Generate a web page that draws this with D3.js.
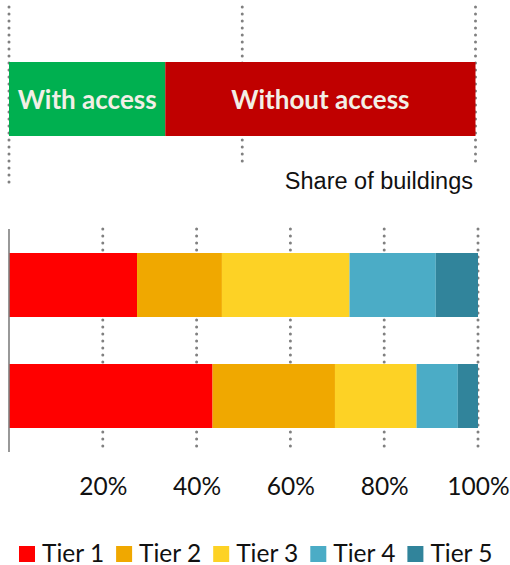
<!DOCTYPE html>
<html>
<head>
<meta charset="utf-8">
<script src="https://cdn.jsdelivr.net/npm/d3@7/dist/d3.min.js"></script>
<style>
  html, body { margin: 0; padding: 0; background: #fff; }
  svg { display: block; }
</style>
</head>
<body>
<svg id="chart" width="510" height="565"></svg>
<script>
// Access split (share of buildings, %)
const accessLabels = ["With access", "Without access"];
const accessValues = [33.5, 66.5];
const accessColors = ["#00b050", "#c00000"];

// Tier distribution for two groups (%)
const rows = ["Group A", "Group B"];
const tiers = ["Tier 1", "Tier 2", "Tier 3", "Tier 4", "Tier 5"];
const tierValuesA = [27.3, 18.1, 27.2, 18.4, 9.0];
const tierValuesB = [43.4, 26.1, 17.4, 8.8, 4.3];
const tierColors = ["#ff0000", "#f0a800", "#fdd225", "#4bacc6", "#31849b"];

const tickValues = [20, 40, 60, 80, 100];
const tickLabels = ["20%", "40%", "60%", "80%", "100%"];
const topTicks = [0, 50, 100];

const svg = d3.select("#chart");
const gridColor = "#808080";
const labelFont = "Lato, 'Open Sans', sans-serif";

// dotted gridline style
function dotted(sel) {
  sel.attr("stroke", gridColor).attr("stroke-width", 3)
    .attr("stroke-dasharray", "0,7").attr("stroke-linecap", "round");
}

// ---------- top: access bar ----------
const xTop = d3.scaleLinear().domain([0, 100]).range([9, 475.5]);
const yTop = d3.scaleBand().domain(["access"]).range([62, 136]).padding(0);

svg.append("g").selectAll("line").data(topTicks).join("line")
  .attr("x1", d => xTop(d)).attr("x2", d => xTop(d))
  .attr("y1", 7).attr("y2", d => d === 0 ? 188 : 164)
  .call(dotted);

let acc = 0;
const accessData = accessValues.map((v, i) => {
  const d = { label: accessLabels[i], x0: acc, x1: acc + v, color: accessColors[i] };
  acc += v;
  return d;
});

svg.append("g").selectAll("rect").data(accessData).join("rect")
  .attr("x", d => xTop(d.x0)).attr("width", d => xTop(d.x1) - xTop(d.x0))
  .attr("y", yTop("access")).attr("height", yTop.bandwidth())
  .attr("fill", d => d.color);

svg.append("g").selectAll("text").data(accessData).join("text")
  .attr("x", d => (xTop(d.x0) + xTop(d.x1)) / 2)
  .attr("y", yTop("access") + yTop.bandwidth() / 2 + 10)
  .attr("text-anchor", "middle")
  .attr("font-family", labelFont).attr("font-weight", "bold")
  .attr("font-size", 26).attr("fill", "#f2efe6")
  .text(d => d.label);

svg.append("text")
  .attr("x", 473).attr("y", 189)
  .attr("text-anchor", "end")
  .attr("font-family", "'Liberation Sans', Arial, sans-serif")
  .attr("font-size", 23.5).attr("fill", "#111")
  .text("Share of buildings");

// ---------- bottom: stacked tier bars ----------
const x = d3.scaleLinear().domain([0, 100]).range([9, 478]);
const y = d3.scaleBand().domain(rows).range([253, 428]).paddingInner(0.4234).paddingOuter(0);

const table = rows.map((r, i) => {
  const vals = i === 0 ? tierValuesA : tierValuesB;
  const o = { row: r };
  tiers.forEach((t, j) => { o[t] = vals[j]; });
  return o;
});
const series = d3.stack().keys(tiers)(table);

// gridlines
svg.append("g").selectAll("line").data(tickValues).join("line")
  .attr("x1", d => x(d)).attr("x2", d => x(d))
  .attr("y1", 229).attr("y2", 452)
  .call(dotted);

svg.append("g").selectAll("g").data(series).join("g")
  .attr("fill", (d, i) => tierColors[i])
  .selectAll("rect").data(d => d).join("rect")
  .attr("x", d => x(d[0])).attr("width", d => x(d[1]) - x(d[0]))
  .attr("y", d => y(d.data.row)).attr("height", y.bandwidth());

// vertical axis line
svg.append("line")
  .attr("x1", 9).attr("x2", 9).attr("y1", 229).attr("y2", 452)
  .attr("stroke", "#7f7f7f").attr("stroke-width", 1.6);

// tick labels
const axis = d3.axisBottom(x).tickValues(tickValues)
  .tickFormat((d, i) => tickLabels[i]).tickSize(0).tickPadding(0);
const axisG = svg.append("g").attr("transform", "translate(0,478)").call(axis);
axisG.select(".domain").remove();
axisG.selectAll("text")
  .attr("font-family", labelFont).attr("font-size", 24.5)
  .attr("fill", "#111").attr("dy", "0.71em").attr("y", 0);

// legend
const legend = svg.append("g").attr("transform", "translate(19,546)");
const item = legend.selectAll("g").data(tiers).join("g")
  .attr("transform", (d, i) => `translate(${i * 97.1},0)`);
item.append("rect").attr("width", 16).attr("height", 16)
  .attr("fill", (d, i) => tierColors[i]);
item.append("text").attr("x", 23).attr("y", 15.5)
  .attr("font-family", labelFont).attr("font-size", 24.5).attr("fill", "#111")
  .text(d => d);
</script>
</body>
</html>
